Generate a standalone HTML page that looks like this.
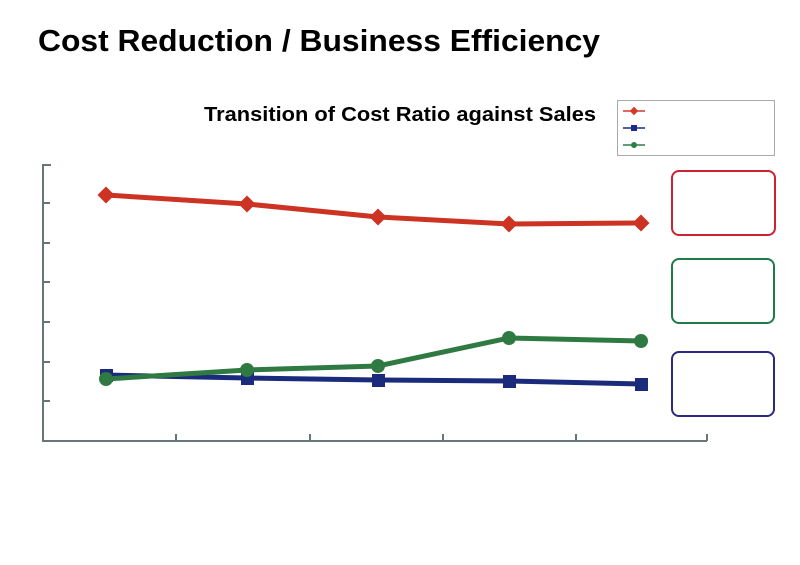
<!DOCTYPE html>
<html><head><style>body{margin:0;background:#fff}svg{display:block}</style></head><body>
<svg width="800" height="565" xmlns="http://www.w3.org/2000/svg" font-family="Liberation Sans, Arial, sans-serif">
<text x="38" y="51" font-size="31" font-weight="bold" fill="#000" textLength="562" lengthAdjust="spacingAndGlyphs">Cost Reduction / Business Efficiency</text>
<text x="204" y="121" font-size="20" font-weight="bold" fill="#000" textLength="392" lengthAdjust="spacingAndGlyphs">Transition of Cost Ratio against Sales</text>
<rect x="617.5" y="100.5" width="157" height="55" fill="#fff" stroke="#aaa" stroke-width="1"/>
<line x1="623" y1="111" x2="645" y2="111" stroke="#d43a2a" stroke-width="1.5"/><rect x="631" y="108" width="6" height="6" transform="rotate(45 634 111)" fill="#d43a2a"/>
<line x1="623" y1="128" x2="645" y2="128" stroke="#1a2b8c" stroke-width="1.5"/><rect x="631" y="125" width="6" height="6" fill="#1a2b8c"/>
<line x1="623" y1="145" x2="645" y2="145" stroke="#2e7d45" stroke-width="1.5"/><circle cx="634" cy="145" r="3" fill="#2e7d45"/>
<g stroke="#667777" stroke-width="2" fill="none">
<line x1="43" y1="164" x2="43" y2="441"/><line x1="42" y1="441" x2="707" y2="441"/>
<line x1="43" y1="165" x2="51" y2="165"/><line x1="43" y1="203" x2="50" y2="203"/><line x1="43" y1="243" x2="50" y2="243"/><line x1="43" y1="282" x2="50" y2="282"/><line x1="43" y1="322" x2="50" y2="322"/><line x1="43" y1="362" x2="50" y2="362"/><line x1="43" y1="401" x2="50" y2="401"/>
<line x1="176" y1="434" x2="176" y2="441"/><line x1="310" y1="434" x2="310" y2="441"/><line x1="443" y1="434" x2="443" y2="441"/><line x1="576" y1="434" x2="576" y2="441"/><line x1="707" y1="434" x2="707" y2="441"/>
</g>
<polyline points="106,375 247,378 378,380 509,381 641,384" fill="none" stroke="#1a2b7c" stroke-width="5"/>
<g fill="#1a2b7c"><rect x="100" y="369" width="13" height="13"/><rect x="241" y="372" width="13" height="13"/><rect x="372" y="374" width="13" height="13"/><rect x="503" y="375" width="13" height="13"/><rect x="635" y="378" width="13" height="13"/></g>
<polyline points="106,379 247,370 378,366 509,338 641,341" fill="none" stroke="#2e7a42" stroke-width="5"/>
<g fill="#2e7a42"><circle cx="106" cy="379" r="7"/><circle cx="247" cy="370" r="7"/><circle cx="378" cy="366" r="7"/><circle cx="509" cy="338" r="7"/><circle cx="641" cy="341" r="7"/></g>
<polyline points="106,195 247,204 378,217 509,224 641,223" fill="none" stroke="#cc3322" stroke-width="5"/>
<g fill="#cc3322"><rect x="100" y="189" width="12" height="12" transform="rotate(45 106 195)"/><rect x="241" y="198" width="12" height="12" transform="rotate(45 247 204)"/><rect x="372" y="211" width="12" height="12" transform="rotate(45 378 217)"/><rect x="503" y="218" width="12" height="12" transform="rotate(45 509 224)"/><rect x="635" y="217" width="12" height="12" transform="rotate(45 641 223)"/></g>
<rect x="672" y="171" width="103" height="64" rx="7" fill="#fff" stroke="#cc2233" stroke-width="2"/>
<rect x="672" y="259" width="102" height="64" rx="7" fill="#fff" stroke="#1f7a4a" stroke-width="2"/>
<rect x="672" y="352" width="102" height="64" rx="7" fill="#fff" stroke="#2a2a80" stroke-width="2"/>
</svg>
</body></html>
